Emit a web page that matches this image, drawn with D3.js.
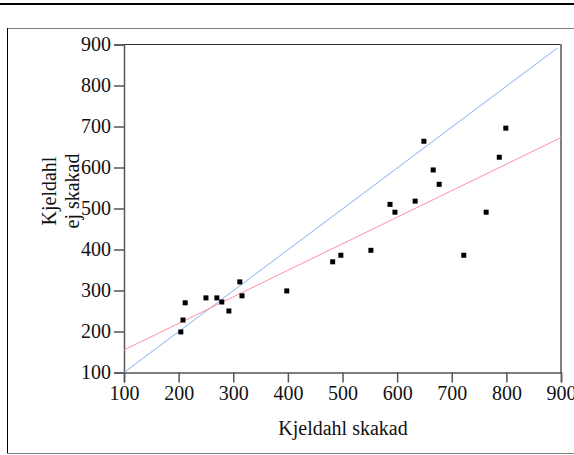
<!DOCTYPE html>
<html><head><meta charset="utf-8">
<script src="https://cdn.jsdelivr.net/npm/d3@7"></script>
<style>body{margin:0;background:#fff}svg{display:block}</style>
</head><body>
<script>
const xValues = [204,208,212,250,270,279,292,312,316,398,482,497,552,587,596,633,649,666,677,722,763,787,799];
const yValues = [199,228,270,282,282,272,250,321,287,299,370,386,398,510,491,518,664,594,559,386,491,625,696];
const identityLine = [[100,100],[893,891]];
const fitLine = [[100,155],[900,673]];
const xTicks = [100,200,300,400,500,600,700,800,900];
const yTicks = [100,200,300,400,500,600,700,800,900];
const xTitle = "Kjeldahl skakad";
const yTitleLines = ["Kjeldahl","ej skakad"];

const W=574,H=455;
const svg=d3.select("body").append("svg").attr("width",W).attr("height",H);
const font="'Liberation Serif','Times New Roman',serif";

// top black rule
svg.append("rect").attr("x",0).attr("y",3).attr("width",W).attr("height",2).attr("fill","#000");
// outer frame
svg.append("line").attr("x1",7).attr("x2",W).attr("y1",28.5).attr("y2",28.5).attr("stroke","#808080");
svg.append("line").attr("x1",7.5).attr("x2",7.5).attr("y1",28).attr("y2",454).attr("stroke","#000");
svg.append("line").attr("x1",7).attr("x2",W).attr("y1",453.5).attr("y2",453.5).attr("stroke","#808080");

const x=d3.scaleLinear().domain([100,900]).range([124,561]);
const y=d3.scaleLinear().domain([100,900]).range([372.5,44.5]);

// plot box
svg.append("line").attr("x1",124).attr("x2",561).attr("y1",44.5).attr("y2",44.5).attr("stroke","#333");
svg.append("line").attr("x1",561).attr("x2",561).attr("y1",44).attr("y2",373).attr("stroke","#808080").attr("stroke-width",2);

const xa=svg.append("g").attr("transform","translate(0,372.5)")
  .call(d3.axisBottom(x).tickValues(xTicks).tickSize(10).tickPadding(3).tickFormat(d3.format("d")));
const ya=svg.append("g").attr("transform","translate(124,0)")
  .call(d3.axisLeft(y).tickValues(yTicks).tickSize(10).tickPadding(3).tickFormat(d3.format("d")));
[xa,ya].forEach(a=>{
  a.select(".domain").attr("stroke","#555").attr("stroke-width",1.5);
  a.selectAll(".tick line").attr("stroke","#555").attr("stroke-width",1.5);
  a.selectAll(".tick text").attr("font-family",font).attr("font-size",20).attr("fill","#111");
});

const line=d3.line().x(d=>x(d[0])).y(d=>y(d[1]));
svg.append("path").attr("d",line(identityLine)).attr("fill","none").attr("stroke","#7fb2f5").attr("stroke-width",1);
svg.append("path").attr("d",line(fitLine)).attr("fill","none").attr("stroke","#ff8fa5").attr("stroke-width",1);

svg.append("g").selectAll("rect").data(xValues.map((v,i)=>[v,yValues[i]])).join("rect")
  .attr("x",d=>x(d[0])-2.5).attr("y",d=>y(d[1])-2.5).attr("width",5).attr("height",5).attr("fill","#000");

svg.append("text").attr("x",343).attr("y",435).attr("text-anchor","middle")
  .attr("font-family",font).attr("font-size",20).attr("fill","#111").text(xTitle);
yTitleLines.forEach((t,i)=>{
  svg.append("text").attr("transform",`translate(${56+i*23},191) rotate(-90)`).attr("text-anchor","middle")
    .attr("font-family",font).attr("font-size",20).attr("fill","#111").text(t);
});
</script>
</body></html>
